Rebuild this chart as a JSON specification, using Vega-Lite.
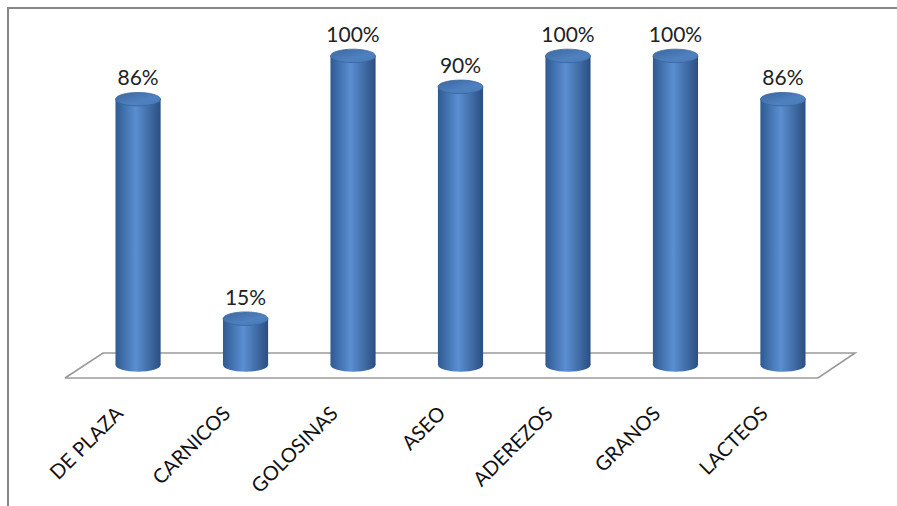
{
  "$schema": "https://vega.github.io/schema/vega-lite/v6.json",
  "autosize": {"type": "none"},
  "padding": {"left": 8, "top": 8, "right": 0, "bottom": 0},
  "width": 905,
  "height": 502,
  "background": "white",
  "config": {"view": {"stroke": "#878787", "strokeWidth": 2}},
  "datasets": {
    "bars": [
      {"categoria": "DE PLAZA", "valor": 0.86},
      {"categoria": "CARNICOS", "valor": 0.15},
      {"categoria": "GOLOSINAS", "valor": 1.0},
      {"categoria": "ASEO", "valor": 0.9},
      {"categoria": "ADEREZOS", "valor": 1.0},
      {"categoria": "GRANOS", "valor": 1.0},
      {"categoria": "LACTEOS", "valor": 0.86}
    ],
    "floor": [
      {"orden": 1, "px": -0.68, "py": -0.042},
      {"orden": 2, "px": -0.326, "py": 0.039},
      {"orden": 3, "px": 6.671, "py": 0.039},
      {"orden": 4, "px": 6.326, "py": -0.042},
      {"orden": 5, "px": -0.68, "py": -0.042}
    ]
  },
  "layer": [
    {
      "data": {"name": "floor"},
      "mark": {"type": "line", "color": "#9a9a9a", "strokeWidth": 1.6, "interpolate": "linear"},
      "encoding": {
        "x": {"field": "px", "type": "quantitative", "scale": {"domain": [-1.21, 7.21], "nice": false, "zero": false}, "axis": null},
        "y": {"field": "py", "type": "quantitative", "scale": {"domain": [-0.469, 1.155], "nice": false, "zero": false}, "axis": null},
        "order": {"field": "orden", "type": "quantitative"}
      }
    },
    {
      "data": {"name": "bars"},
      "encoding": {
        "x": {
          "field": "categoria", "type": "nominal", "sort": null,
          "scale": {"paddingInner": 0.58, "paddingOuter": 1.0},
          "axis": {
            "orient": "bottom", "offset": -110, "domain": false, "ticks": false, "grid": false,
            "title": null, "labelAngle": -45, "labelAlign": "right", "labelBaseline": "middle",
            "labelPadding": 10, "labelOffset": -18, "labelFont": "Lato", "labelFontSize": 20,
            "labelColor": "#111111"
          }
        }
      },
      "layer": [
        {
          "mark": {
            "type": "point", "filled": true, "opacity": 1, "size": 2025,
            "shape": "M-1,0A1,0.3,0,1,1,1,0A1,0.3,0,1,1,-1,0Z",
            "color": {"gradient": "linear", "x1": 0, "x2": 1, "y1": 0, "y2": 0,
              "stops": [{"offset": 0, "color": "#2f5a92"}, {"offset": 0.45, "color": "#5a8fd2"}, {"offset": 1, "color": "#2b4e80"}]}
          },
          "encoding": {"y": {"datum": 0, "type": "quantitative", "scale": {"domain": [-0.469, 1.155], "nice": false, "zero": false}, "axis": null}}
        },
        {
          "mark": {
            "type": "bar",
            "color": {"gradient": "linear", "x1": 0, "x2": 1, "y1": 0, "y2": 0,
              "stops": [{"offset": 0, "color": "#2f5a92"}, {"offset": 0.45, "color": "#5a8fd2"}, {"offset": 1, "color": "#2b4e80"}]}
          },
          "encoding": {
            "y": {"field": "valor", "type": "quantitative", "scale": {"domain": [-0.469, 1.155], "nice": false, "zero": false}, "axis": null},
            "y2": {"datum": 0}
          }
        },
        {
          "mark": {
            "type": "point", "filled": true, "opacity": 1, "size": 2025,
            "shape": "M-1,0A1,0.3,0,1,1,1,0A1,0.3,0,1,1,-1,0Z",
            "color": {"gradient": "linear", "x1": 0, "x2": 1, "y1": 0, "y2": 1,
              "stops": [{"offset": 0, "color": "#3a679f"}, {"offset": 0.6, "color": "#4f80bf"}, {"offset": 1, "color": "#4a7ab8"}]},
            "stroke": "#3a659c", "strokeWidth": 0.8
          },
          "encoding": {"y": {"field": "valor", "type": "quantitative"}}
        },
        {
          "mark": {"type": "text", "font": "Lato", "fontSize": 21, "color": "#222222", "baseline": "alphabetic", "dy": -14},
          "encoding": {
            "y": {"field": "valor", "type": "quantitative"},
            "text": {"field": "valor", "type": "quantitative", "format": ".0%"}
          }
        }
      ]
    }
  ],
  "resolve": {"scale": {"x": "independent"}}
}
